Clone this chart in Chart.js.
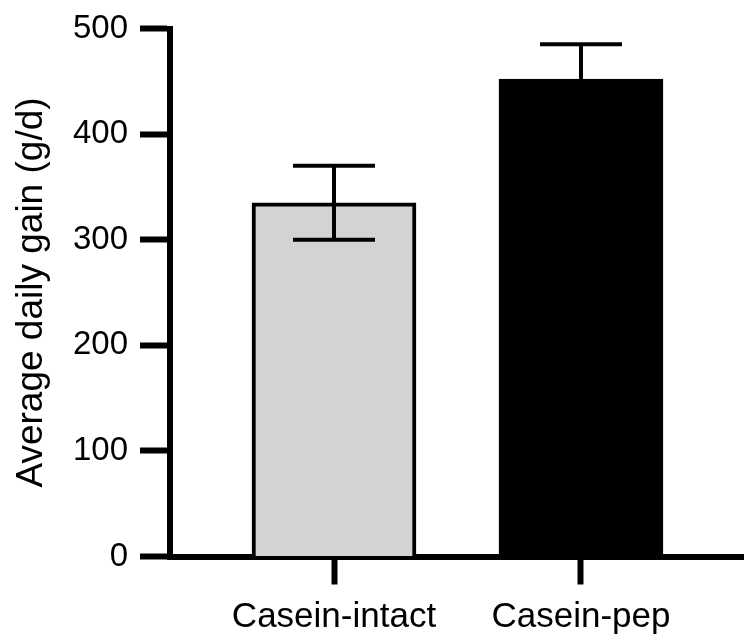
<!DOCTYPE html>
<html>
<head>
<meta charset="utf-8">
<script src="https://cdn.jsdelivr.net/npm/chart.js@4"></script>
<style>
  html, body { margin: 0; padding: 0; background: #fff; }
</style>
</head>
<body>
<canvas id="chart" width="744" height="639"></canvas>
<script>
/* global Chart */

(function() {

  const categories = ['Casein-intact', 'Casein-pep'];
  const means = [335, 452];
  const errors = [35, 33];
  const yTicks = [0, 100, 200, 300, 400, 500];
  const fills = ['#d3d3d3', '#000000'];

  const font = 'Arial, "Liberation Sans", sans-serif';

  // draw the error bars from the y scale
  const errorBars = {
    id: 'errorBars',
    afterDatasetsDraw(chart) {
      const ctx = chart.ctx;
      const y = chart.scales.y;
      const meta = chart.getDatasetMeta(0);
      ctx.save();
      ctx.strokeStyle = '#000';
      ctx.lineWidth = 4;
      meta.data.forEach((bar, i) => {
        const top = y.getPixelForValue(means[i] + errors[i]);
        const bot = y.getPixelForValue(means[i] - errors[i]);
        const half = bar.width / 4;
        ctx.beginPath();
        ctx.moveTo(bar.x, top);
        ctx.lineTo(bar.x, bot);
        ctx.moveTo(bar.x - half, top);
        ctx.lineTo(bar.x + half, top);
        ctx.moveTo(bar.x - half, bot);
        ctx.lineTo(bar.x + half, bot);
        ctx.stroke();
      });
      ctx.restore();
    }
  };

  const ctx = document.getElementById('chart');
  new Chart(ctx, {
    type: 'bar',
    data: {
      datasets: [{
        data: means.map((m, i) => ({ x: i + 1, y: m })),
        backgroundColor: fills,
        borderColor: '#000',
        borderWidth: 4,
        barThickness: 164,
      }]
    },
    options: {
      responsive: false,
      animation: false,
      layout: { padding: { top: 27.5, right: 0, left: 0, bottom: 0 } },
      plugins: { legend: { display: false }, tooltip: { enabled: false } },
      scales: {
        x: {
          type: 'linear',
          offset: false,
          min: 0.336,
          max: 2.66,
          z: 1,
          afterBuildTicks: s => { s.ticks = categories.map((c, i) => ({ value: i + 1 })); },
          afterFit: s => { s.height = 82.5; },
          border: { display: true, color: '#000', width: 6 },
          grid: { offset: false, drawOnChartArea: false, drawTicks: true, tickLength: 28, tickWidth: 6, tickColor: '#000', color: '#000' },
          ticks: {
            color: '#000',
            font: { family: font, size: 35, lineHeight: 1.0 },
            padding: 15,
            maxRotation: 0,
            autoSkip: false,
            callback: v => categories[Math.round(v) - 1],
          },
        },
        y: {
          min: 0,
          max: 500,
          z: 1,
          afterBuildTicks: s => { s.ticks = yTicks.map(v => ({ value: v })); },
          afterFit: s => { s.width = 170; },
          border: { display: true, color: '#000', width: 6 },
          grid: { drawOnChartArea: false, drawTicks: true, tickLength: 30, tickWidth: 6, tickColor: '#000', color: '#000' },
          ticks: { color: '#000', font: { family: font, size: 33, lineHeight: 1.0 }, padding: 12 },
          title: {
            display: true,
            text: 'Average daily gain (g/d)',
            color: '#000',
            font: { family: font, size: 37 },
            padding: { top: 10, bottom: 7 },
          },
        },
      },
    },
    plugins: [errorBars],
  });

})();
</script>
</body>
</html>
